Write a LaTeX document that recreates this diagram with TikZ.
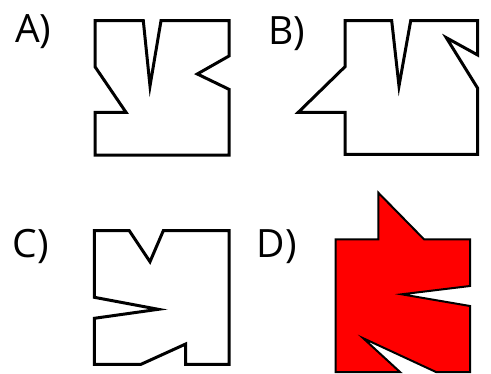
\documentclass[tikz,border=0pt]{standalone}
\usepackage{fontspec}
\setmainfont{Open Sans}
\begin{document}
\begin{tikzpicture}[x=1pt,y=-1pt,
  outline/.style={draw=black,line width=3pt,line join=miter},
  redshape/.style={draw=black,line width=2pt,fill=red,line join=miter},
  lbl/.style={inner sep=0pt,anchor=base west,font=\fontsize{39}{39}\selectfont}]
\useasboundingbox (0,0) rectangle (491,373);
% labels
\node[lbl] (la) at (15,42) {A)};
\node[lbl] (lb) at (268,44) {B)};
\node[lbl] (lc) at (12.6,257) {C)};
\node[lbl] (ld) at (256.5,257) {D)};
% A
\draw[outline] (95,20.7) -- (143.3,20.7) -- (150,86) -- (161,20.7) -- (229,20.7)
  -- (229,56) -- (197.3,74) -- (229,89.3) -- (229,155) -- (95,155) -- (95,112.3)
  -- (126,112.3) -- (95,66.7) -- cycle;
% B
\draw[outline] (345,20.7) -- (391.7,20.7) -- (399,86) -- (410.7,20.7) -- (477.7,20.7)
  -- (477.7,55) -- (446.3,37.7) -- (477.7,88.3) -- (477.7,154.3) -- (345,154.3)
  -- (345,112.3) -- (298.3,112.3) -- (345,66.7) -- cycle;
% C
\draw[outline] (94.3,230.7) -- (129.3,230.7) -- (150,261.7) -- (163.3,230.7) -- (229,230.7)
  -- (229,364.3) -- (185.7,364.3) -- (185.7,344) -- (141,364.3) -- (94.3,364.3)
  -- (94.3,318.3) -- (158.3,309.3) -- (94.3,297.3) -- cycle;
% D
\draw[redshape] (335.7,239.3) -- (378.3,239.3) -- (378.3,192.7) -- (424,239.3) -- (470,239.3)
  -- (470,286) -- (401.7,294.3) -- (470,306) -- (470,372) -- (436,372)
  -- (363.3,338.3) -- (400,372) -- (335.7,372) -- cycle;
\end{tikzpicture}
\end{document}
